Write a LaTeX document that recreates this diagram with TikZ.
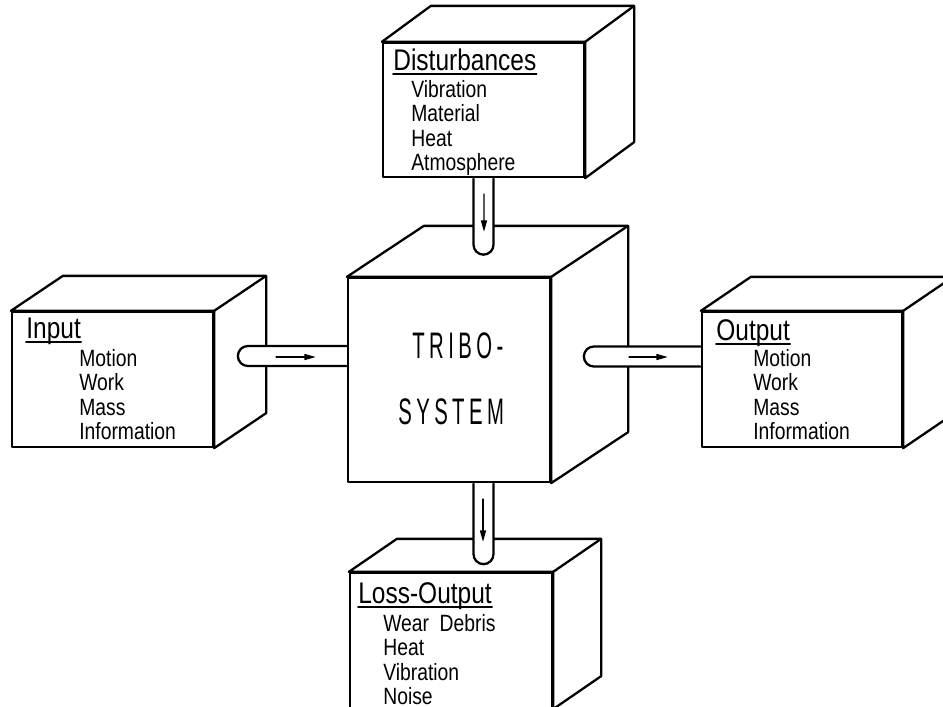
\documentclass[tikz,border=0pt]{standalone}
\usepackage{fontspec}
\usetikzlibrary{arrows.meta,calc}
\newfontfamily\letterfont[FakeStretch=0.82]{Liberation Sans}
\newfontfamily\cubefont[FakeStretch=0.55,LetterSpace=12]{Liberation Sans}

\begin{document}
\begin{tikzpicture}[
  x=0.2mm,y=-0.2mm,
  line cap=round,line join=round,
  edge/.style={draw=black, line width=1.3pt},
  frontface/.style={edge, fill=white, inner sep=0pt},
  pipe/.style={draw=black, fill=white, line width=1.3pt},
  flow/.style={draw=black, line width=.85pt, -{Triangle[length=6.5pt,width=3.4pt]}},
  heading/.style={font=\letterfont\fontsize{17pt}{19pt}\selectfont, anchor=base west, inner sep=0pt},
  item/.style={font=\letterfont\fontsize{13.4pt}{15pt}\selectfont, anchor=base west, inner sep=0pt},
  cubetext/.style={font=\cubefont\fontsize{21pt}{23pt}\selectfont, anchor=base west, inner sep=0pt},
  uline/.style={draw=black, line width=.9pt}
]
\useasboundingbox (0,0) rectangle (943,706);

% front faces
\node[frontface, minimum width=4.02cm, minimum height=2.68cm] (dist) at (483.5,110) {};
\node[frontface, minimum width=4.02cm, minimum height=2.70cm] (inp) at (112.5,379.5) {};
\node[frontface, minimum width=4.04cm, minimum height=4.08cm] (tribo) at (449,380) {};
\node[frontface, minimum width=4.00cm, minimum height=2.70cm] (outp) at (802,379.5) {};
\node[frontface, minimum width=4.04cm, minimum height=2.70cm] (loss) at (451,640.5) {};

% top and right faces of each block
\foreach \n/\dx/\dy in {dist/49/-36, inp/52/-35, tribo/77/-51, outp/50/-34, loss/48/-33}{
  \draw[edge, fill=white] (\n.north west) -- ++(\dx,\dy) -- ($(\n.north east)+(\dx,\dy)$)
    -- ($(\n.south east)+(\dx,\dy)$) -- (\n.south east) -- (\n.north east) -- cycle;
  \draw[edge] (\n.north east) -- ++(\dx,\dy);
}

% block titles
\node[heading] (dist-hd) at (393,70) {Disturbances};
\node[heading] (inp-hd) at (26,338) {Input};
\node[heading] (outp-hd) at (716,340) {Output};
\node[heading] (loss-hd) at (358,603) {Loss-Output};
\foreach \n in {dist,inp,outp,loss}{
  \draw[uline] ($(\n-hd.base west)+(0,4)$) -- ($(\n-hd.base east)+(0,4)$);
}

% listed quantities
\foreach \t [count=\i] in {Vibration,Material,Heat,Atmosphere}
  \node[item] (dist-\i) at (411,{97+24.5*(\i-1)}) {\t};
\foreach \t [count=\i] in {Motion,Work,Mass,Information}{
  \node[item] (inp-\i) at (79,{366+24.5*(\i-1)}) {\t};
  \node[item] (outp-\i) at (753,{366+24.5*(\i-1)}) {\t};
}
\foreach \t [count=\i] in {Wear\hspace{.45em}Debris,Heat,Vibration,Noise}
  \node[item] (loss-\i) at (383,{631+24.5*(\i-1)}) {\t};

\node[cubetext] (tribo-a) at (412,358) {TRIBO-};
\node[cubetext] (tribo-b) at (398,424) {SYSTEM};

% pipes with rounded ends
\draw[pipe] ($(dist.south)+(-10,.5)$) -- ++(0,66) arc[start angle=180,end angle=360,radius=2mm]
  -- ($(dist.south)+(10,.5)$);
\draw[pipe] ($(tribo.west)+(-.5,-34)$) -- ++(-98.5,0) arc[start angle=90,end angle=270,radius=2mm]
  -- ($(tribo.west)+(-.5,-14)$);
\draw[pipe] ($(outp.west)+(-.5,-33)$) -- ++(-106.5,0) arc[start angle=90,end angle=270,radius=2mm]
  -- ($(outp.west)+(-.5,-13)$);
\draw[pipe] ($(tribo.south)+(24.5,.5)$) -- ++(0,70.5) arc[start angle=180,end angle=360,radius=2mm]
  -- ($(tribo.south)+(44.5,.5)$);

% flow direction
\draw[flow] ($(dist.south)+(.5,16)$) -- ($(tribo.north)+(35,-45)$);
\draw[flow] ($(inp.east)+(62,-22.5)$) -- ($(tribo.west)+(-31,-23)$);
\draw[flow] ($(tribo.east)+(78,-23)$) -- ($(outp.west)+(-33,-22.5)$);
\draw[flow] ($(tribo.south)+(34,16)$) -- ($(loss.north)+(32,-30)$);

\end{tikzpicture}
\end{document}
